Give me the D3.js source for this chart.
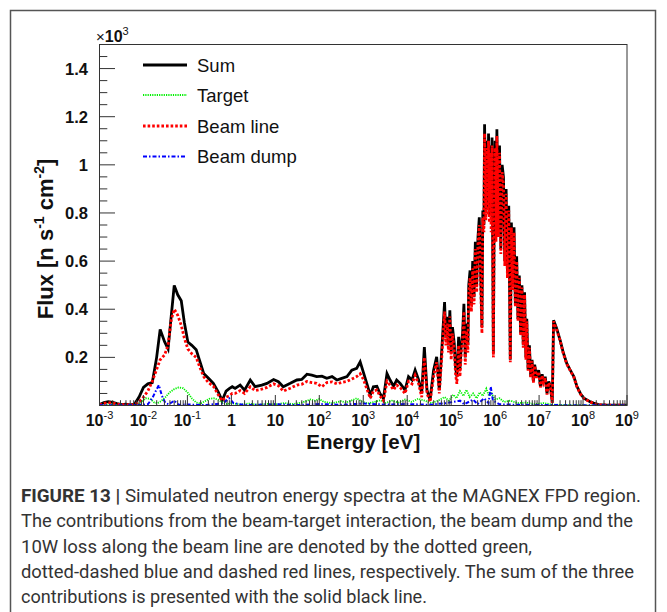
<!DOCTYPE html>
<html>
<head>
<meta charset="utf-8">
<script src="https://cdn.jsdelivr.net/npm/d3@7.9.0/dist/d3.min.js"></script>
<style>
  body { margin: 0; background: #fff; }
  svg { display: block; font-family: "Liberation Sans", Arial, Helvetica, sans-serif; }
</style>
</head>
<body>
<svg id="chart" width="667" height="612"></svg>
<script>
// spectra: [log10(E/eV), flux in units of 10^3 n s^-1 cm^-2]
const sumSpectrum = [
  [-3.0,0.004],[-2.9,0.012],[-2.8,0.016],[-2.7,0.013],[-2.6,0.008],[-2.5,0.004],[-2.4,0.006],[-2.3,0.003],
  [-2.2,0.006],[-2.1,0.035],[-2.0,0.075],[-1.9,0.09],[-1.8,0.095],[-1.7,0.2],[-1.62,0.316],[-1.52,0.265],
  [-1.44,0.235],[-1.37,0.368],[-1.3,0.499],[-1.22,0.46],[-1.14,0.435],[-1.07,0.345],[-0.99,0.264],[-0.9,0.25],
  [-0.8,0.232],[-0.72,0.185],[-0.63,0.133],[-0.52,0.113],[-0.41,0.092],[-0.3,0.057],[-0.21,0.02],[-0.12,0.06],
  [-0.05,0.07],[0.02,0.078],[0.085,0.071],[0.2,0.085],[0.3,0.064],[0.43,0.106],[0.54,0.078],[0.69,0.085],
  [0.81,0.092],[0.96,0.108],[1.07,0.099],[1.18,0.078],[1.34,0.092],[1.49,0.106],[1.6,0.108],[1.72,0.13],
  [1.83,0.126],[1.94,0.12],[2.06,0.122],[2.17,0.113],[2.29,0.12],[2.4,0.106],[2.51,0.113],[2.63,0.12],
  [2.74,0.147],[2.85,0.154],[2.93,0.181],[3.0,0.14],[3.08,0.092],[3.16,0.043],[3.23,0.078],[3.31,0.08],
  [3.38,0.05],[3.46,0.03],[3.54,0.133],[3.61,0.106],[3.69,0.08],[3.76,0.106],[3.84,0.092],[3.95,0.064],
  [4.03,0.12],[4.11,0.106],[4.18,0.147],[4.26,0.106],[4.33,0.05],[4.39,0.243],[4.45,0.064],[4.52,0.023],
  [4.6,0.147],[4.67,0.202],[4.73,0.064],[4.79,0.243],[4.85,0.43],[4.88,0.28],[4.91,0.368],[4.94,0.25],
  [4.97,0.396],[5.0,0.22],[5.03,0.326],[5.07,0.258],[5.1,0.16],[5.13,0.12],[5.17,0.285],[5.2,0.15],
  [5.23,0.25],[5.26,0.3],[5.29,0.423],[5.32,0.2],[5.35,0.34],[5.38,0.25],[5.4,0.5],[5.43,0.561],
  [5.46,0.42],[5.49,0.6],[5.52,0.45],[5.55,0.68],[5.58,0.5],[5.61,0.7],[5.64,0.782],[5.67,0.55],
  [5.7,0.326],[5.72,0.81],[5.745,0.75],[5.76,1.169],[5.79,0.8],[5.81,1.1],[5.835,0.82],[5.85,1.13],
  [5.87,0.79],[5.89,1.08],[5.91,0.8],[5.93,1.114],[5.96,0.216],[5.98,0.85],[6.0,1.1],[6.02,0.7],
  [6.04,1.148],[6.07,0.72],[6.1,1.08],[6.13,0.65],[6.16,1.0],[6.19,0.948],[6.22,0.6],[6.25,0.9],
  [6.28,0.55],[6.31,0.83],[6.345,0.19],[6.37,0.76],[6.4,0.5],[6.43,0.741],[6.46,0.42],[6.49,0.62],
  [6.52,0.36],[6.55,0.54],[6.58,0.3],[6.61,0.5],[6.64,0.25],[6.67,0.47],[6.7,0.2],[6.72,0.36],
  [6.75,0.15],[6.78,0.25],[6.81,0.12],[6.84,0.19],[6.87,0.1],[6.9,0.17],[6.94,0.12],[6.99,0.147],
  [7.03,0.08],[7.07,0.13],[7.1,0.1],[7.14,0.12],[7.18,0.05],[7.22,0.1],[7.26,0.078],[7.3,0.012],
  [7.33,0.354],[7.4,0.32],[7.48,0.271],[7.55,0.22],[7.63,0.175],[7.7,0.15],[7.79,0.12],[7.86,0.08],
  [7.94,0.05],[8.02,0.03],[8.09,0.023],[8.17,0.015],[8.24,0.01],[8.35,0.004],[8.5,0.002],[8.7,0.001],[9.0,0.001]
];

const beamLineSpectrum = [
  [-3.0,0.003],[-2.9,0.009],[-2.8,0.012],[-2.7,0.01],[-2.6,0.006],[-2.5,0.003],[-2.4,0.004],[-2.3,0.002],
  [-2.2,0.004],[-2.1,0.015],[-2.0,0.035],[-1.9,0.06],[-1.8,0.1],[-1.7,0.15],[-1.62,0.19],[-1.52,0.21],
  [-1.44,0.25],[-1.37,0.354],[-1.3,0.4],[-1.22,0.375],[-1.14,0.333],[-1.07,0.28],[-0.99,0.235],[-0.9,0.215],
  [-0.8,0.2],[-0.72,0.16],[-0.63,0.12],[-0.52,0.095],[-0.41,0.08],[-0.3,0.045],[-0.21,0.02],[-0.12,0.035],
  [-0.05,0.04],[0.02,0.05],[0.085,0.05],[0.2,0.062],[0.3,0.05],[0.43,0.078],[0.54,0.062],[0.69,0.068],
  [0.81,0.075],[0.96,0.09],[1.07,0.082],[1.18,0.06],[1.34,0.072],[1.49,0.085],[1.6,0.088],[1.72,0.1],
  [1.83,0.095],[1.94,0.092],[2.06,0.078],[2.17,0.095],[2.29,0.098],[2.4,0.09],[2.51,0.096],[2.63,0.1],
  [2.74,0.11],[2.85,0.12],[2.93,0.132],[3.0,0.11],[3.08,0.07],[3.16,0.03],[3.23,0.06],[3.31,0.065],
  [3.38,0.04],[3.46,0.02],[3.54,0.1],[3.61,0.085],[3.69,0.065],[3.76,0.085],[3.84,0.075],[3.95,0.05],
  [4.03,0.1],[4.11,0.09],[4.18,0.125],[4.26,0.09],[4.33,0.035],[4.39,0.2],[4.45,0.05],[4.52,0.015],
  [4.6,0.12],[4.67,0.18],[4.73,0.05],[4.79,0.21],[4.85,0.39],[4.88,0.25],[4.91,0.34],[4.94,0.22],
  [4.97,0.37],[5.0,0.19],[5.03,0.3],[5.07,0.23],[5.1,0.13],[5.13,0.09],[5.17,0.25],[5.2,0.12],
  [5.23,0.22],[5.26,0.27],[5.29,0.39],[5.32,0.17],[5.35,0.31],[5.38,0.22],[5.4,0.47],[5.43,0.53],
  [5.46,0.39],[5.49,0.57],[5.52,0.42],[5.55,0.65],[5.58,0.47],[5.61,0.67],[5.64,0.75],[5.67,0.52],
  [5.7,0.3],[5.72,0.78],[5.745,0.72],[5.76,1.13],[5.79,0.77],[5.81,1.07],[5.835,0.79],[5.85,1.1],
  [5.87,0.76],[5.89,1.05],[5.91,0.72],[5.93,1.08],[5.96,0.2],[5.98,0.82],[6.0,1.07],[6.02,0.68],
  [6.04,1.12],[6.07,0.7],[6.1,1.05],[6.13,0.63],[6.16,0.97],[6.19,0.92],[6.22,0.58],[6.25,0.88],
  [6.28,0.53],[6.31,0.81],[6.345,0.18],[6.37,0.74],[6.4,0.48],[6.43,0.72],[6.46,0.41],[6.49,0.6],
  [6.52,0.35],[6.55,0.53],[6.58,0.29],[6.61,0.49],[6.64,0.24],[6.67,0.46],[6.7,0.19],[6.72,0.35],
  [6.75,0.145],[6.78,0.24],[6.81,0.115],[6.84,0.185],[6.87,0.095],[6.9,0.165],[6.94,0.115],[6.99,0.14],
  [7.03,0.075],[7.07,0.125],[7.1,0.095],[7.14,0.115],[7.18,0.045],[7.22,0.095],[7.26,0.074],[7.3,0.01],
  [7.33,0.35],[7.4,0.315],[7.48,0.268],[7.55,0.217],[7.63,0.172],[7.7,0.148],[7.79,0.118],[7.86,0.078],
  [7.94,0.048],[8.02,0.029],[8.09,0.022],[8.17,0.014],[8.24,0.009],[8.35,0.003],[8.5,0.002],[8.7,0.001],[9.0,0.001]
];

const targetSpectrum = [
  [-3.0,0.001],[-2.8,0.004],[-2.6,0.002],[-2.4,0.003],[-2.2,0.002],[-2.05,0.012],[-1.95,0.03],[-1.85,0.028],
  [-1.75,0.012],[-1.68,0.01],[-1.6,0.018],[-1.5,0.035],[-1.4,0.055],[-1.3,0.068],[-1.2,0.075],[-1.1,0.072],
  [-1.0,0.055],[-0.9,0.03],[-0.8,0.012],[-0.7,0.008],[-0.6,0.018],[-0.5,0.028],[-0.4,0.03],[-0.3,0.024],
  [-0.2,0.012],[-0.1,0.006],[0.0,0.01],[0.2,0.004],[0.4,0.008],[0.6,0.003],[0.8,0.007],[1.0,0.004],
  [1.2,0.01],[1.4,0.006],[1.6,0.012],[1.8,0.025],[1.9,0.02],[2.0,0.027],[2.1,0.015],[2.3,0.01],
  [2.5,0.018],[2.6,0.012],[2.75,0.022],[2.85,0.03],[2.95,0.018],[3.1,0.008],[3.25,0.015],[3.4,0.022],
  [3.5,0.01],[3.65,0.02],[3.8,0.012],[3.95,0.025],[4.1,0.015],[4.25,0.028],[4.4,0.02],[4.55,0.01],
  [4.7,0.02],[4.85,0.035],[4.95,0.02],[5.05,0.045],[5.12,0.03],[5.2,0.06],[5.28,0.04],[5.35,0.065],
  [5.42,0.035],[5.5,0.05],[5.58,0.03],[5.65,0.055],[5.72,0.04],[5.8,0.07],[5.86,0.04],[5.92,0.05],
  [6.0,0.025],[6.1,0.03],[6.2,0.015],[6.35,0.02],[6.5,0.01],[6.7,0.012],[6.9,0.006],[7.1,0.01],
  [7.3,0.004],[7.6,0.002],[8.0,0.001],[9.0,0.0]
];

const beamDumpSpectrum = [
  [-3.0,0.001],[-2.5,0.001],[-2.1,0.002],[-1.9,0.005],[-1.8,0.03],[-1.72,0.06],[-1.65,0.085],[-1.58,0.04],
  [-1.5,0.01],[-1.42,0.005],[-1.3,0.02],[-1.2,0.003],[-1.0,0.004],[-0.6,0.002],[-0.2,0.008],[-0.05,0.03],
  [0.05,0.01],[0.3,0.002],[1.0,0.005],[1.5,0.002],[2.0,0.006],[2.5,0.003],[3.0,0.008],[3.5,0.004],
  [4.0,0.006],[4.5,0.003],[4.9,0.01],[5.2,0.02],[5.3,0.005],[5.5,0.025],[5.6,0.005],[5.75,0.03],
  [5.85,0.01],[5.9,0.078],[5.95,0.02],[6.1,0.005],[6.5,0.003],[7.0,0.002],[8.0,0.001],[9.0,0.001]
];

const seriesNames = ["Sum", "Target", "Beam line", "Beam dump"];
const decadeExponents = [-3, -2, -1, 0, 1, 2, 3, 4, 5, 6, 7, 8, 9];
const yTickLabels = ["0.2", "0.4", "0.6", "0.8", "1", "1.2", "1.4"];
const captionLines = [
  "Simulated neutron energy spectra at the MAGNEX FPD region.",
  "The contributions from the beam-target interaction, the beam dump and the",
  "10W loss along the beam line are denoted by the dotted green,",
  "dotted-dashed blue and dashed red lines, respectively. The sum of the three",
  "contributions is presented with the solid black line."
];

const svg = d3.select("#chart");
const frame = { left: 99.5, right: 627, top: 44.5, bottom: 405.5 };

// outer figure border
svg.append("rect")
  .attr("x", 10.5).attr("y", 10.5).attr("width", 645).attr("height", 640)
  .attr("fill", "none").attr("stroke", "#555").attr("stroke-width", 1.5);

const x = d3.scaleLog().domain([1e-3, 1e9]).range([frame.left, frame.right]);
const y = d3.scaleLinear().domain([0, 1.5]).range([frame.bottom, frame.top]);

svg.append("clipPath").attr("id", "plotClip")
  .append("rect")
  .attr("x", frame.left).attr("y", frame.top)
  .attr("width", frame.right - frame.left).attr("height", frame.bottom - frame.top);

const line = d3.line()
  .x(d => x(Math.pow(10, d[0])))
  .y(d => y(d[1]));

const styles = [
  { data: sumSpectrum, color: "#000", width: 2.8, dash: null },
  { data: targetSpectrum, color: "#00f000", width: 1.8, dash: "1.2,1.1" },
  { data: beamLineSpectrum, color: "#ff0000", width: 2.8, dash: "2.6,2" },
  { data: beamDumpSpectrum, color: "#0000ff", width: 2, dash: "4,2,1.5,2" }
];

const plot = svg.append("g").attr("clip-path", "url(#plotClip)");
styles.forEach(s => {
  plot.append("path")
    .datum(s.data)
    .attr("d", line)
    .attr("fill", "none")
    .attr("stroke", s.color)
    .attr("stroke-width", s.width)
    .attr("stroke-dasharray", s.dash)
    .attr("stroke-linejoin", "miter");
});

// frame
svg.append("rect")
  .attr("x", frame.left).attr("y", frame.top)
  .attr("width", frame.right - frame.left).attr("height", frame.bottom - frame.top)
  .attr("fill", "none").attr("stroke", "#333").attr("stroke-width", 1);

// y axis ticks (ROOT style, pointing inward)
const yTicks = svg.append("g").attr("stroke", "#333").attr("stroke-width", 1);
d3.range(0, 31).forEach(i => {
  const v = i * 0.05;
  const major = i % 4 === 0;
  yTicks.append("line")
    .attr("x1", frame.left).attr("x2", frame.left + (major ? 15.5 : 7.8))
    .attr("y1", y(v)).attr("y2", y(v));
});
yTickLabels.forEach(lbl => {
  svg.append("text")
    .attr("x", 88).attr("y", y(+lbl))
    .attr("dy", "0.36em")
    .attr("text-anchor", "end")
    .attr("font-size", 16.5).attr("font-weight", "bold")
    .attr("fill", "#111")
    .text(lbl);
});
const mult = svg.append("text").attr("x", 96).attr("y", 42).attr("fill", "#111");
mult.append("tspan").attr("font-size", 15).text("\u00d7");
mult.append("tspan").attr("font-size", 16).attr("font-weight", "bold").text("10");
mult.append("tspan").attr("font-size", 11).attr("dy", -7).text("3");

// x axis ticks (log, with 2..9 minor ticks)
const xTicks = svg.append("g").attr("stroke", "#333").attr("stroke-width", 1);
decadeExponents.forEach(e => {
  const px = x(Math.pow(10, e));
  xTicks.append("line").attr("x1", px).attr("x2", px)
    .attr("y1", frame.bottom).attr("y2", frame.bottom - 10.5);
  if (e < 9) {
    d3.range(2, 10).forEach(m => {
      const mx = x(m * Math.pow(10, e));
      xTicks.append("line").attr("x1", mx).attr("x2", mx)
        .attr("y1", frame.bottom).attr("y2", frame.bottom - 5.3);
    });
  }
  const t = svg.append("text")
    .attr("x", px).attr("y", 425.5)
    .attr("text-anchor", "middle")
    .attr("font-size", 16).attr("font-weight", "bold")
    .attr("fill", "#111");
  if (e === 0) t.text("1");
  else if (e === 1) t.text("10");
  else {
    t.append("tspan").text("10");
    t.append("tspan").attr("font-size", 11).attr("dy", -7).attr("font-weight", "normal").text(e);
  }
});

// axis titles
svg.append("text")
  .attr("x", (frame.left + frame.right) / 2).attr("y", 449)
  .attr("text-anchor", "middle")
  .attr("font-size", 20.5).attr("font-weight", "bold").attr("fill", "#111")
  .text("Energy [eV]");

const yTitle = svg.append("text")
  .attr("transform", "translate(53,239) rotate(-90)")
  .attr("text-anchor", "middle")
  .attr("font-size", 22).attr("font-weight", "bold").attr("fill", "#111");
yTitle.append("tspan").text("Flux [n s");
yTitle.append("tspan").attr("font-size", 14).attr("dy", -9).text("-1");
yTitle.append("tspan").attr("dy", 9).text(" cm");
yTitle.append("tspan").attr("font-size", 14).attr("dy", -9).text("-2");
yTitle.append("tspan").attr("dy", 9).text("]");

// legend
const legendRows = [65, 95, 126, 156.5];
seriesNames.forEach((name, i) => {
  const s = styles[i];
  svg.append("line")
    .attr("x1", 143).attr("x2", 187)
    .attr("y1", legendRows[i]).attr("y2", legendRows[i])
    .attr("stroke", s.color).attr("stroke-width", s.width)
    .attr("stroke-dasharray", s.dash);
  svg.append("text")
    .attr("x", 197).attr("y", legendRows[i]).attr("dy", "0.36em")
    .attr("font-size", 18.5).attr("fill", "#111")
    .text(name);
});

// caption
const captionWidths = [620, 612, 511, 613, 406];
captionLines.forEach((txt, i) => {
  const t = svg.append("text")
    .attr("x", 21).attr("y", 502 + i * 25.3)
    .attr("font-family", "Roboto, 'Liberation Sans', sans-serif")
    .attr("font-size", 18).attr("fill", "#333")
    .attr("textLength", captionWidths[i]).attr("lengthAdjust", "spacingAndGlyphs");
  if (i === 0) {
    t.append("tspan").attr("font-weight", "bold").text("FIGURE 13 | ");
  }
  t.append("tspan").text(txt);
});
</script>
</body>
</html>
